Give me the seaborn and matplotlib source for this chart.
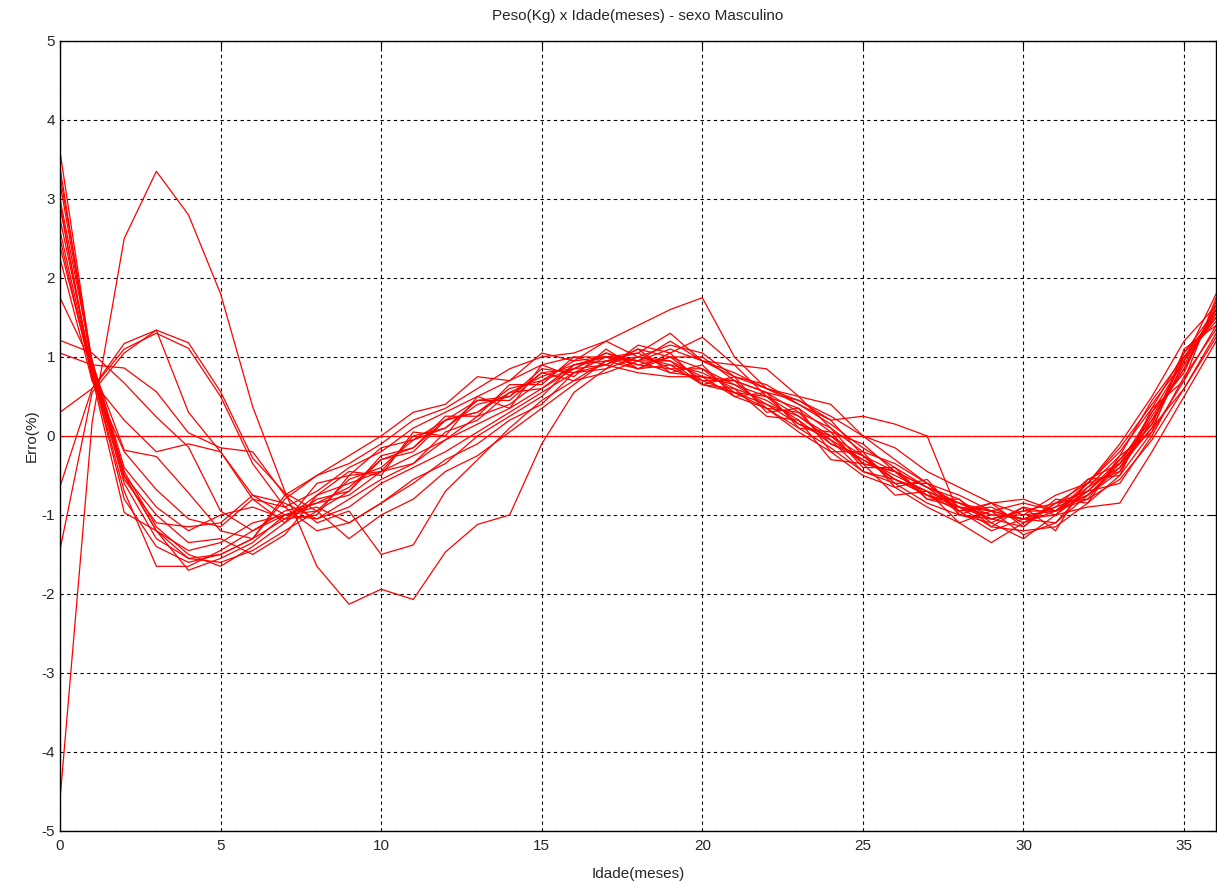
import matplotlib
matplotlib.use("Agg")
import matplotlib.pyplot as plt
import seaborn as sns
import numpy as np
import pandas as pd

meses = list(range(37))

# erro (%) de cada curva, um valor por mes (0..36)
c01 = [3.6, 0.9, -0.5, -1.2, -1.55, -1.6, -1.45, -1.2,
       -0.95, -0.7, -0.3, -0.2, 0.2, 0.3, 0.6,
       0.7, 0.95, 1.0, 1.05, 0.85, 0.85,
       0.55, 0.5, 0.15, 0.0, -0.35,
       -0.45, -0.75, -0.85, -1.05, -0.95,
       -0.95, -0.65, -0.4, 0.25, 0.85, 1.6]
c02 = [3.4, 0.85, -0.6, -1.3, -1.55, -1.5, -1.3, -1.05,
       -1.0, -0.5, -0.45, 0.0, 0.1, 0.45, 0.5,
       0.8, 0.85, 1.05, 0.9, 1.0, 0.7,
       0.7, 0.35, 0.3, -0.1, -0.25,
       -0.6, -0.6, -0.95, -0.9, -1.1,
       -0.85, -0.8, -0.3, 0.15, 1.0, 1.45]
c03 = [3.2, 0.9, -0.45, -1.15, -1.5, -1.65, -1.4, -1.1,
       -0.8, -0.7, -0.25, -0.15, 0.25, 0.25, 0.65,
       0.65, 1.0, 0.9, 1.1, 0.8, 0.9,
       0.5, 0.55, 0.1, 0.05, -0.4,
       -0.4, -0.8, -0.8, -1.1, -0.9,
       -1.0, -0.6, -0.45, 0.3, 0.8, 1.7]
c04 = [3.0, 0.95, -0.5, -1.2, -1.7, -1.55, -1.35, -1.0,
       -0.95, -0.55, -0.4, -0.05, 0.1, 0.4, 0.5,
       0.85, 0.8, 1.0, 0.95, 0.95, 0.75,
       0.65, 0.4, 0.25, -0.05, -0.3,
       -0.5, -0.7, -0.9, -0.95, -1.05,
       -0.9, -0.75, -0.35, 0.1, 0.95, 1.5]
c05 = [2.9, 0.8, -0.7, -1.65, -1.65, -1.45, -1.2, -0.95,
       -0.85, -0.65, -0.3, -0.15, 0.2, 0.3, 0.55,
       0.75, 0.9, 0.95, 1.0, 0.9, 0.8,
       0.6, 0.45, 0.2, -0.1, -0.3,
       -0.55, -0.7, -0.85, -1.0, -1.0,
       -0.95, -0.7, -0.3, 0.2, 0.9, 1.55]
c06 = [2.75, 0.85, -0.5, -1.0, -1.35, -1.3, -1.5, -1.25,
       -0.75, -0.45, -0.5, 0.05, 0.0, 0.5, 0.35,
       0.9, 0.75, 1.1, 0.85, 1.05, 0.65,
       0.75, 0.3, 0.35, -0.2, -0.2,
       -0.65, -0.55, -1.0, -0.85, -1.15,
       -0.8, -0.85, -0.25, 0.05, 1.1, 1.4]
c07 = [2.6, 0.8, -0.55, -1.1, -1.15, -1.1, -0.75, -0.85,
       -1.05, -0.8, -0.55, -0.35, -0.05, 0.15, 0.35,
       0.6, 0.85, 1.05, 0.95, 1.2, 0.95,
       0.8, 0.6, 0.4, 0.15, -0.15,
       -0.4, -0.65, -0.8, -1.15, -0.9,
       -1.2, -0.55, -0.5, 0.35, 0.7, 1.75]
c08 = [2.5, 0.75, -0.97, -1.2, -1.45, -1.35, -1.1, -1.0,
       -1.05, -0.9, -0.6, -0.4, -0.2, 0.05, 0.3,
       0.55, 0.8, 0.9, 1.1, 1.0, 1.0,
       0.7, 0.55, 0.3, 0.1, -0.2,
       -0.35, -0.6, -0.75, -0.95, -1.05,
       -1.0, -0.7, -0.6, 0.0, 0.75, 1.35]
c09 = [2.25, 0.7, -0.2, -0.68, -1.05, -1.15, -0.8, -0.9,
       -0.7, -0.4, -0.2, 0.1, 0.3, 0.5, 0.7,
       0.9, 1.0, 1.0, 0.9, 0.85, 0.7,
       0.55, 0.35, 0.1, -0.15, -0.45,
       -0.6, -0.85, -1.0, -1.05, -0.95,
       -0.85, -0.6, -0.2, 0.35, 1.05, 1.6]
c10 = [1.75, 0.9, -0.18, -0.26, -0.72, -1.2, -1.3, -0.75,
       -0.5, -0.25, 0.0, 0.3, 0.4, 0.75, 0.7,
       1.05, 0.95, 1.2, 1.0, 0.95, 0.65,
       0.6, 0.25, 0.2, -0.3, -0.35,
       -0.75, -0.7, -1.1, -0.95, -1.25,
       -1.1, -0.75, -0.45, 0.2, 0.85, 1.65]
c11 = [1.21, 1.05, 0.67, 0.24, -0.14, -0.95, -1.2, -1.0,
       -0.9, -1.1, -0.85, -0.6, -0.3, -0.1, 0.2,
       0.4, 0.8, 0.85, 1.15, 1.05, 1.25,
       0.9, 0.85, 0.5, 0.4, 0.0,
       -0.15, -0.45, -0.65, -0.85, -0.8,
       -0.95, -0.8, -0.55, -0.05, 0.6, 1.3]
c12 = [1.05, 0.9, 0.86, 0.56, 0.04, -0.15, -0.2, -0.75,
       -1.1, -0.95, -1.5, -1.38, -0.7, -0.3, 0.1,
       0.45, 0.7, 0.8, 0.95, 1.1, 0.95,
       0.75, 0.6, 0.45, 0.25, 0.0,
       -0.3, -0.6, -0.9, -1.15, -1.2,
       -1.15, -0.85, -0.5, 0.05, 0.7, 1.4]
c13 = [0.3, 0.6, 1.17, 1.34, 1.18, 0.56, -0.28, -0.72,
       -0.95, -1.3, -1.0, -0.8, -0.45, -0.25, 0.05,
       0.35, 0.65, 0.95, 0.85, 1.0, 0.85,
       0.65, 0.5, 0.25, 0.0, -0.25,
       -0.55, -0.75, -0.95, -1.2, -1.05,
       -1.1, -0.65, -0.25, 0.45, 1.0, 1.55]
c14 = [-0.64, 0.6, 1.1, 1.3, 1.11, 0.5, -0.35, -0.9,
       -1.2, -1.1, -0.85, -0.55, -0.35, 0.0, 0.25,
       0.5, 0.9, 1.0, 0.95, 0.8, 0.75,
       0.5, 0.35, 0.05, -0.2, -0.5,
       -0.65, -0.9, -1.1, -1.35, -1.1,
       -0.95, -0.6, -0.1, 0.5, 1.2, 1.65]
c15 = [-1.44, 0.55, 1.05, 1.34, 0.3, -0.2, -0.8, -1.1,
       -0.6, -0.5, -0.15, -0.05, 0.2, 0.45, 0.45,
       0.8, 0.7, 0.95, 1.05, 1.3, 0.95,
       0.9, 0.5, 0.35, 0.05, -0.1,
       -0.45, -0.65, -0.85, -0.95, -0.85,
       -0.95, -0.75, -0.4, 0.1, 0.6, 1.25]
c16 = [-4.6, 0.17, 2.5, 3.35, 2.8, 1.8, 0.37, -0.7,
       -1.65, -2.13, -1.94, -2.07, -1.47, -1.12, -1.0,
       -0.1, 0.55, 0.85, 1.0, 1.15, 1.05,
       0.75, 0.65, 0.4, 0.2, 0.25,
       0.15, 0.0, -1.0, -1.1, -1.3,
       -1.0, -0.9, -0.85, -0.2, 0.5, 1.2]
c17 = [2.4, 0.8, -0.8, -1.4, -1.6, -1.5, -1.3, -0.8,
       -0.5, -0.35, -0.1, 0.2, 0.35, 0.6, 0.85,
       1.0, 1.05, 1.2, 1.4, 1.6, 1.75,
       1.0, 0.6, 0.5, 0.1, -0.35,
       -0.45, -0.8, -0.9, -1.05, -1.15,
       -0.85, -0.7, -0.35, 0.3, 0.95, 1.8]
c18 = [3.3, 0.95, -0.4, -0.9, -1.2, -1.0, -0.9, -1.05,
       -0.75, -0.6, -0.45, -0.25, -0.05, 0.25, 0.4,
       0.7, 0.85, 0.9, 0.8, 0.75, 0.75,
       0.7, 0.55, 0.45, 0.2, -0.25,
       -0.45, -0.65, -0.95, -0.85, -1.0,
       -0.75, -0.6, -0.15, 0.4, 0.95, 1.6]
c19 = [2.95, 0.7, 0.2, -0.2, -0.1, -0.2, -0.75, -1.0,
       -0.85, -0.75, -0.45, -0.35, 0.05, 0.2, 0.55,
       0.6, 0.9, 1.0, 0.85, 0.9, 0.65,
       0.55, 0.4, 0.15, -0.05, -0.45,
       -0.55, -0.75, -0.9, -1.0, -1.05,
       -0.9, -0.55, -0.35, 0.15, 1.05, 1.5]
zero = [0.0] * 37

curvas = [c01, c02, c03, c04, c05, c06, c07, c08, c09, c10,
          c11, c12, c13, c14, c15, c16, c17, c18, c19, zero]

linhas = []
for i, c in enumerate(curvas):
    for m, e in zip(meses, c):
        linhas.append({'curva': i, 'mes': m, 'erro': e})
df = pd.DataFrame(linhas)

sns.set_style('white')
plt.rcParams['font.family'] = ['Liberation Sans', 'DejaVu Sans']
plt.rcParams['axes.unicode_minus'] = False

fig = plt.figure(figsize=(12.17, 8.81), dpi=100)
ax = fig.add_axes([0.0493, 0.0568, 0.95, 0.8967])

sns.lineplot(data=df, x='mes', y='erro', units='curva', estimator=None,
             color='#ff0000', linewidth=0.9, ax=ax, legend=False)

ax.set_xlim(0, 36)
ax.set_ylim(-5, 5)
ax.set_xticks([0, 5, 10, 15, 20, 25, 30, 35])
ax.set_yticks(range(-5, 6))
ax.grid(True, color='black', linestyle=(0, (3, 3)), linewidth=0.8)
ax.tick_params(direction='in', length=5, top=True, right=True,
               labelsize=11, color='black')
ax.tick_params(axis='x', pad=6)
for s in ax.spines.values():
    s.set_color('black')
    s.set_linewidth(1.0)

ax.set_title('Peso(Kg) x Idade(meses) - sexo Masculino', fontsize=11, pad=15)
ax.set_xlabel('Idade(meses)', fontsize=11, labelpad=10)
ax.set_ylabel('Erro(%)', fontsize=11, labelpad=2)

fig.savefig('out.png', dpi=100)
